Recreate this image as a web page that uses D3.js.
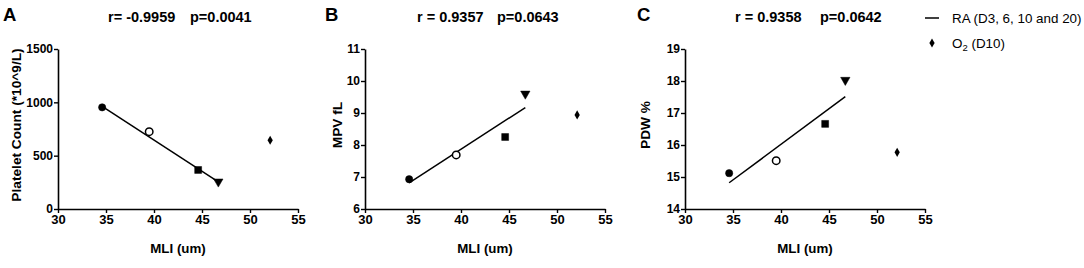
<!DOCTYPE html>
<html>
<head>
<meta charset="utf-8">
<script src="https://cdn.jsdelivr.net/npm/d3@7"></script>
<style>
  body { margin: 0; background: #fff; }
  text { font-family: Arial, "Liberation Sans", sans-serif; fill: #000; }
</style>
</head>
<body>
<div id="chart"></div>
<script>
// data
const groups = ["D3", "D6", "D10", "D20"];
const mli = [34.6, 39.5, 44.6, 46.7];
const o2Mli = 52.1;

const platelet = [953, 725, 366, 256];
const plateletO2 = 644;
const plateletFit = [962, 255];

const mpv = [6.93, 7.69, 8.25, 9.6];
const mpvO2 = 8.94;
const mpvFit = [6.82, 9.17];

const pdw = [15.12, 15.51, 16.66, 18.03];
const pdwO2 = 15.77;
const pdwFit = [14.82, 17.51];

const fitX = [34.6, 46.7];
const xTicks = [30, 35, 40, 45, 50, 55];

const panels = [
  { letter: "A", r: "r= -0.9959", p: "p=0.0041", ylab: "Platelet Count (*10^9/L)",
    values: platelet, o2: plateletO2, fit: plateletFit, domain: [0, 1500], ticks: [0, 500, 1000, 1500] },
  { letter: "B", r: "r = 0.9357", p: "p=0.0643", ylab: "MPV fL",
    values: mpv, o2: mpvO2, fit: mpvFit, domain: [6, 11], ticks: [6, 7, 8, 9, 10, 11] },
  { letter: "C", r: "r = 0.9358", p: "p=0.0642", ylab: "PDW %",
    values: pdw, o2: pdwO2, fit: pdwFit, domain: [14, 19], ticks: [14, 15, 16, 17, 18, 19] }
];

const width = 1084, height = 268;
const left = [58, 365, 685];   // y axis positions
const plotW = 240, plotTop = 49, plotBottom = 209;

const svg = d3.select("#chart").append("svg")
  .attr("width", width)
  .attr("height", height);

// marker per group
const shapes = [
  { type: d3.symbolCircle, size: 42, fill: "#000", rot: 0 },
  { type: d3.symbolCircle, size: 44, fill: "#fff", rot: 0 },
  { type: d3.symbolSquare, size: 48, fill: "#000", rot: 0 },
  { type: d3.symbolTriangle, size: 38, fill: "#000", rot: 180 }
];

panels.forEach((pn, i) => {
  const x0 = left[i];
  const x = d3.scaleLinear().domain([30, 55]).range([x0, x0 + plotW]);
  const y = d3.scaleLinear().domain(pn.domain).range([plotBottom, plotTop]);
  const g = svg.append("g");

  // axes
  const xAxis = g.append("g")
    .attr("transform", `translate(0,${plotBottom})`)
    .call(d3.axisBottom(x).tickValues(xTicks).tickFormat(d3.format("d"))
      .tickSize(4).tickPadding(2).tickSizeOuter(0));
  const yAxis = g.append("g")
    .attr("transform", `translate(${x0},0)`)
    .call(d3.axisLeft(y).tickValues(pn.ticks).tickFormat(d3.format("d"))
      .tickSize(4).tickPadding(1).tickSizeOuter(0));
  [xAxis, yAxis].forEach((a, k) => {
    a.select(".domain").attr("stroke", "#000").attr("stroke-width", 1.6);
    a.selectAll(".tick line").attr("stroke", "#000").attr("stroke-width", 1.4);
    a.selectAll(".tick text")
      .attr("font-size", k === 0 ? 13 : 12).attr("font-weight", "bold")
      .attr("font-family", "Arial, 'Liberation Sans', sans-serif").attr("fill", "#000");
  });

  // regression line
  g.append("line")
    .attr("x1", x(fitX[0])).attr("y1", y(pn.fit[0]))
    .attr("x2", x(fitX[1])).attr("y2", y(pn.fit[1]))
    .attr("stroke", "#000").attr("stroke-width", 1.5);

  // RA points
  g.selectAll("path.pt")
    .data(pn.values)
    .join("path")
    .attr("class", "pt")
    .attr("d", (d, j) => d3.symbol().type(shapes[j].type).size(shapes[j].size)())
    .attr("transform", (d, j) => `translate(${x(mli[j])},${y(d)}) rotate(${shapes[j].rot})`)
    .attr("fill", (d, j) => shapes[j].fill)
    .attr("stroke", "#000")
    .attr("stroke-width", (d, j) => j === 1 ? 1.5 : 0.5);

  // O2 point
  g.append("path")
    .attr("d", d3.symbol().type(d3.symbolDiamond).size(24)())
    .attr("transform", `translate(${x(o2Mli)},${y(pn.o2)})`)
    .attr("fill", "#000");

  // panel letter
  svg.append("text")
    .attr("x", [3, 325, 637][i]).attr("y", 21)
    .attr("font-size", 18.5).attr("font-weight", "bold")
    .text(pn.letter);

  // stats
  svg.append("text")
    .attr("x", [108, 417, 735][i]).attr("y", 22)
    .attr("font-size", 14.5).attr("font-weight", "bold")
    .text(pn.r);
  svg.append("text")
    .attr("x", [190, 497, 820][i]).attr("y", 22)
    .attr("font-size", 14.5).attr("font-weight", "bold")
    .text(pn.p);

  // y label
  svg.append("text")
    .attr("transform", `translate(${x0 - [42, 28, 40][i]},${(plotTop + plotBottom) / 2 - 4}) rotate(-90)`)
    .attr("text-anchor", "middle")
    .attr("dy", "0.35em")
    .attr("font-size", 13.7).attr("font-weight", "bold")
    .text(pn.ylab);

  // x label
  svg.append("text")
    .attr("x", x0 + plotW / 2).attr("y", 253)
    .attr("text-anchor", "middle")
    .attr("font-size", 13.3).attr("font-weight", "bold")
    .text("MLI (um)");
});

// legend
const leg = svg.append("g");
leg.append("line")
  .attr("x1", 925).attr("x2", 939).attr("y1", 18).attr("y2", 18)
  .attr("stroke", "#000").attr("stroke-width", 1.5);
leg.append("text")
  .attr("x", 952).attr("y", 23)
  .attr("font-size", 13.4)
  .text("RA (D3, 6, 10 and 20)");
leg.append("path")
  .attr("d", d3.symbol().type(d3.symbolDiamond).size(24)())
  .attr("transform", "translate(932,43)")
  .attr("fill", "#000");
const o2t = leg.append("text")
  .attr("x", 952).attr("y", 48)
  .attr("font-size", 13.4);
o2t.append("tspan").text("O");
o2t.append("tspan").attr("font-size", 9.5).attr("dy", 3).text("2");
o2t.append("tspan").attr("dy", -3).text(" (D10)");
</script>
</body>
</html>
